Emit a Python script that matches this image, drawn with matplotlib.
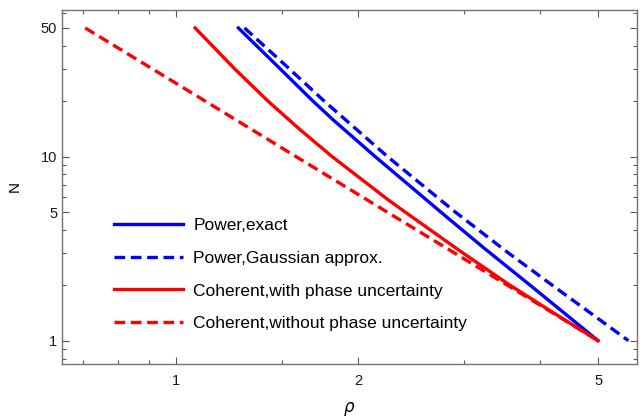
import numpy as np
import matplotlib
matplotlib.use('Agg')
import matplotlib.pyplot as plt
from matplotlib.ticker import FixedLocator, NullFormatter

plt.rcParams['font.family'] = ['Liberation Sans', 'DejaVu Sans']

# curves (rho, N)
rho_power_exact = [1.268, 1.487, 1.686, 1.822, 2.137, 2.844, 3.25, 3.86, 5.0]
N_power_exact = [50, 30, 20, 15.8, 10, 4.53, 3.15, 2, 1]

rho_power_gauss = [1.298, 1.54, 1.76, 2.24, 2.90, 3.55, 4.2, 5.615]
N_power_gauss = [50, 30, 20, 10, 5, 3, 2, 1]

rho_coh_phase = [1.075, 1.25, 1.42, 1.605, 1.813, 2.234, 2.395, 2.954, 3.55, 4.2, 5.0]
N_coh_phase = [50, 30, 20, 14, 10, 5.9, 5, 3.07, 2.03, 1.43, 1]

rho_coh_nophase = [0.707, 0.913, 1.118, 1.58, 2.236, 3.54, 5.0]
N_coh_nophase = [50, 30, 20, 10, 5, 2, 1]

labels = ['Power,exact', 'Power,Gaussian approx.',
          'Coherent,with phase uncertainty', 'Coherent,without phase uncertainty']

x_major = [1, 2, 5]
x_minor = [0.7, 0.8, 0.9, 1.5, 3, 4]
y_major = [1, 5, 10, 50]
y_minor = [0.8, 0.9, 2, 3, 4, 6, 7, 8, 9, 20, 30, 40, 60]

fig = plt.figure(figsize=(6.44, 4.2), dpi=100)
ax = fig.add_axes([62/644, 1-364/420, (636.5-62)/644, (364-9.5)/420])

lw = 2.4
dash = (3.2, 1.7)
ax.plot(rho_power_exact, N_power_exact, color='#0000ff', lw=lw, label=labels[0])
ax.plot(rho_power_gauss, N_power_gauss, color='#0000ff', lw=lw, dashes=dash, label=labels[1])
ax.plot(rho_coh_phase, N_coh_phase, color='#ff0000', lw=lw, label=labels[2])
ax.plot(rho_coh_nophase, N_coh_nophase, color='#ff0000', lw=lw, dashes=dash, label=labels[3])

ax.set_xscale('log')
ax.set_yscale('log')
ax.set_xlim(0.647, 5.79)
ax.set_ylim(0.747, 63)

ax.xaxis.set_major_locator(FixedLocator(x_major))
ax.xaxis.set_minor_locator(FixedLocator(x_minor))
ax.yaxis.set_major_locator(FixedLocator(y_major))
ax.yaxis.set_minor_locator(FixedLocator(y_minor))
ax.set_xticklabels([str(v) for v in x_major])
ax.set_yticklabels([str(v) for v in y_major])
ax.xaxis.set_minor_formatter(NullFormatter())
ax.yaxis.set_minor_formatter(NullFormatter())

ax.tick_params(which='both', direction='in', top=True, right=True,
               color='0.35', width=0.8, labelsize=10.5, labelcolor='0.1')
ax.tick_params(which='major', length=5)
ax.tick_params(which='minor', length=3)
ax.tick_params(axis='x', pad=7)
for s in ax.spines.values():
    s.set_color('0.45')
    s.set_linewidth(1.0)

ax.set_xlabel(r'$\rho$', fontsize=12, labelpad=9)
ax.set_ylabel('N', fontsize=11, labelpad=14)

leg = ax.legend(loc='upper left', bbox_to_anchor=(0.063, 0.455), frameon=False,
                fontsize=12.5, handlelength=4.0, handletextpad=0.57,
                labelspacing=1.0)

fig.savefig('out.png', dpi=100)
